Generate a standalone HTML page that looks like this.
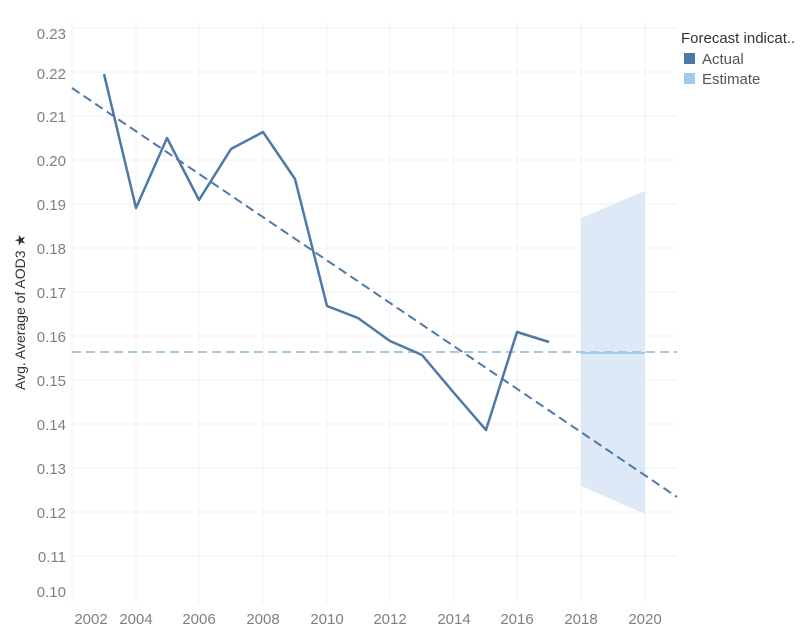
<!DOCTYPE html>
<html><head><meta charset="utf-8"><style>
body{margin:0;background:#fff;}
svg{display:block;font-family:"Liberation Sans",sans-serif;}
</style></head><body>
<svg width="800" height="630" viewBox="0 0 800 630">
<g stroke="#f0f0f0" stroke-width="1">
<line x1="72" y1="28" x2="677" y2="28"/><line x1="72" y1="72" x2="677" y2="72"/>
<line x1="72" y1="116" x2="677" y2="116"/><line x1="72" y1="160" x2="677" y2="160"/>
<line x1="72" y1="204" x2="677" y2="204"/><line x1="72" y1="248" x2="677" y2="248"/>
<line x1="72" y1="292" x2="677" y2="292"/><line x1="72" y1="336" x2="677" y2="336"/>
<line x1="72" y1="380" x2="677" y2="380"/><line x1="72" y1="424" x2="677" y2="424"/>
<line x1="72" y1="468" x2="677" y2="468"/><line x1="72" y1="512" x2="677" y2="512"/>
<line x1="72" y1="556" x2="677" y2="556"/>
<line x1="72" y1="22" x2="72" y2="603"/><line x1="136" y1="22" x2="136" y2="603"/>
<line x1="199" y1="22" x2="199" y2="603"/><line x1="263" y1="22" x2="263" y2="603"/>
<line x1="327" y1="22" x2="327" y2="603"/><line x1="390" y1="22" x2="390" y2="603"/>
<line x1="454" y1="22" x2="454" y2="603"/><line x1="517" y1="22" x2="517" y2="603"/>
<line x1="581" y1="22" x2="581" y2="603"/><line x1="645" y1="22" x2="645" y2="603"/>
</g>
<polygon points="581,218 645,191 645,514 581,486" fill="#dde9f6"/>
<line x1="72" y1="352" x2="677" y2="352" stroke="#a3cbe8" stroke-width="2" stroke-dasharray="9,5"/>
<line x1="581" y1="353" x2="645" y2="353" stroke="#a3cbe8" stroke-width="2"/>
<line x1="72" y1="88" x2="677" y2="497" stroke="#4e79a7" stroke-width="2" stroke-dasharray="9,5"/>
<polyline fill="none" stroke="#4e79a7" stroke-width="2.5" stroke-linejoin="round" points="104,74 136,208 167,138 199,200 231,149 263,132 295,179 327,306 358,318 390,341 422,355 454,393 486,430 517,332 549,342"/>
<g fill="#808080" font-size="15" text-anchor="end">
<text x="66" y="39">0.23</text><text x="66" y="79">0.22</text><text x="66" y="122">0.21</text>
<text x="66" y="166">0.20</text><text x="66" y="210">0.19</text><text x="66" y="254">0.18</text>
<text x="66" y="298">0.17</text><text x="66" y="342">0.16</text><text x="66" y="386">0.15</text>
<text x="66" y="430">0.14</text><text x="66" y="474">0.13</text><text x="66" y="518">0.12</text>
<text x="66" y="562">0.11</text><text x="66" y="597">0.10</text>
</g>
<g fill="#808080" font-size="15" text-anchor="middle">
<text x="91" y="624">2002</text><text x="136" y="624">2004</text><text x="199" y="624">2006</text>
<text x="263" y="624">2008</text><text x="327" y="624">2010</text><text x="390" y="624">2012</text>
<text x="454" y="624">2014</text><text x="517" y="624">2016</text><text x="581" y="624">2018</text>
<text x="645" y="624">2020</text>
</g>
<text transform="translate(25,312) rotate(-90)" font-size="14" fill="#333" text-anchor="middle">Avg. Average of AOD3 ★</text>
<text x="681" y="43" font-size="15" fill="#333">Forecast indicat..</text>
<rect x="684" y="53" width="11" height="11" fill="#4e79a7"/>
<text x="702" y="64" font-size="15" fill="#555">Actual</text>
<rect x="684" y="73" width="11" height="11" fill="#a0cbe8"/>
<text x="702" y="84" font-size="15" fill="#555">Estimate</text>
</svg>
</body></html>
